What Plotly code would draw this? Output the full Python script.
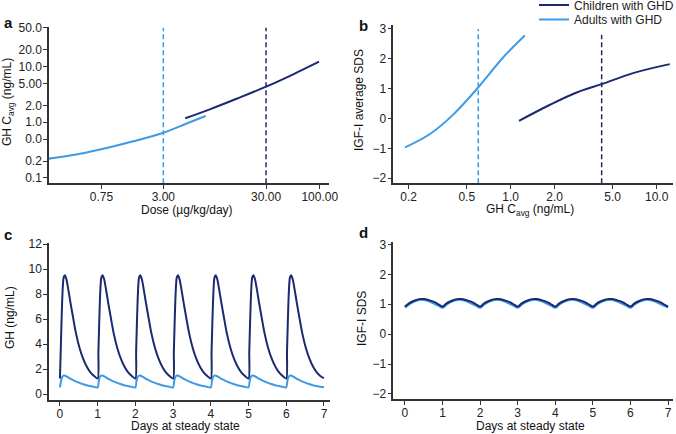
import plotly.graph_objects as go

W, H = 676, 434
NAVY = "#1b2a6e"
LIGHT = "#3e9ae4"
AXC = "#333333"
FONT = "Liberation Sans, Arial, sans-serif"

# ---------------- Panel a: dose vs GH Cavg ----------------
A_CHILD_DOSE = [4.9, 8.5, 15.5, 30, 55.2, 98.5]
A_CHILD_CAVG = [1.18, 1.71, 2.65, 4.37, 7.3, 12.3]
A_ADULT_DOSE = [0.231, 0.464, 0.843, 1.53, 3.0, 5.06, 7.74]
A_ADULT_CAVG = [0.222, 0.272, 0.345, 0.455, 0.65, 0.95, 1.30]
A_REF_DOSE = {"adult": 3.0, "child": 30.0}
A_YTICK_VALS = [50, 20, 10, 5, 2, 1, 0.5, 0.2, 0.1]
A_YTICK_TEXT = ["50.0", "20.0", "10.0", "5.00", "2.0", "1.0", "0.0", "0.2", "0.1"]
A_XTICK_VALS = [0.75, 3, 30, 100]
A_XTICK_TEXT = ["0.75", "3.00", "30.00", "100.00"]

# ---------------- Panel b: GH Cavg vs IGF-I SDS ----------------
B_ADULT_CAVG = [0.189, 0.28, 0.404, 0.607, 0.89, 1.25]
B_ADULT_SDS = [-0.97, -0.52, 0.13, 1.07, 2.05, 2.78]
B_CHILD_CAVG = [1.14, 1.86, 2.83, 4.2, 6.9, 12.3]
B_CHILD_SDS = [-0.08, 0.46, 0.87, 1.15, 1.52, 1.82]
B_REF_CAVG = {"adult": 0.60, "child": 4.2}
B_REF_TOP = {"adult": 3.0, "child": 2.8}
B_XTICK_VALS = [0.2, 0.5, 1.0, 2.0, 5.0, 10.0]
B_XTICK_TEXT = ["0.2", "0.5", "1.0", "2.0", "5.0", "10.0"]

# ---------------- Panel c: GH over one dosing day (repeats daily) ----------------
C_CHILD_T = [0, 0.02, 0.04, 0.06, 0.08, 0.10, 0.13, 0.17, 0.22, 0.28, 0.35, 0.43, 0.52, 0.62, 0.72, 0.82, 0.92]
C_CHILD_GH = [1.25, 3.4, 5.6, 7.5, 8.8, 9.35, 9.5, 9.2, 8.4, 7.3, 6.1, 4.8, 3.7, 2.8, 2.15, 1.7, 1.42]
C_CHILD_END = 1.28
C_ADULT_T = [0, 0.03, 0.06, 0.10, 0.14, 0.20, 0.30, 0.40, 0.50, 0.60, 0.70, 0.80, 0.90]
C_ADULT_GH = [0.55, 1.05, 1.38, 1.50, 1.48, 1.38, 1.20, 1.05, 0.93, 0.82, 0.72, 0.65, 0.59]
C_ADULT_END = 0.56

# ---------------- Panel d: IGF-I SDS over one dosing day ----------------
D_T = [0, 0.1, 0.2, 0.3, 0.4, 0.5, 0.6, 0.7, 0.8, 0.9]
D_CHILD_SDS = [0.92, 1.02, 1.09, 1.14, 1.17, 1.17, 1.15, 1.11, 1.06, 0.99]
D_CHILD_END = 0.92
D_ADULT_SDS = [0.89, 0.99, 1.07, 1.12, 1.15, 1.15, 1.12, 1.07, 1.01, 0.95]
D_ADULT_END = 0.89
N_DAYS = 7
DAY_TICKS = list(range(0, 8))


def tile(cycle_t, cycle_v, end_v, n):
    xs, ys = [], []
    for d in range(n):
        xs += [d + t for t in cycle_t]
        ys += list(cycle_v)
    xs.append(n)
    ys.append(end_v)
    return xs, ys


def px(x):
    return x / W


def py(y):
    return 1 - y / H


fig = go.Figure()
LW = 2

# Panel a
fig.add_trace(go.Scatter(x=A_CHILD_DOSE, y=A_CHILD_CAVG, mode="lines", name="Children with GHD",
                         line=dict(color=NAVY, width=LW, shape="spline"), xaxis="x", yaxis="y",
                         legend="legend"))
fig.add_trace(go.Scatter(x=A_ADULT_DOSE, y=A_ADULT_CAVG, mode="lines", name="Adults with GHD",
                         line=dict(color=LIGHT, width=LW, shape="spline"), xaxis="x", yaxis="y",
                         legend="legend2"))
A_YR = [-1.097, 1.719]
for key, col in (("adult", LIGHT), ("child", NAVY)):
    fig.add_trace(go.Scatter(x=[A_REF_DOSE[key]] * 2, y=[10 ** A_YR[0], 50], mode="lines",
                             line=dict(color=col, width=1.5, dash="5px,3px"), showlegend=False,
                             xaxis="x", yaxis="y", hoverinfo="skip"))

# Panel b
fig.add_trace(go.Scatter(x=B_ADULT_CAVG, y=B_ADULT_SDS, mode="lines", showlegend=False,
                         line=dict(color=LIGHT, width=LW, shape="spline"), xaxis="x2", yaxis="y2"))
fig.add_trace(go.Scatter(x=B_CHILD_CAVG, y=B_CHILD_SDS, mode="lines", showlegend=False,
                         line=dict(color=NAVY, width=LW, shape="spline"), xaxis="x2", yaxis="y2"))
B_YR = [-2.17, 3.13]
for key, col in (("adult", LIGHT), ("child", NAVY)):
    fig.add_trace(go.Scatter(x=[B_REF_CAVG[key]] * 2, y=[B_YR[0], B_REF_TOP[key]], mode="lines",
                             line=dict(color=col, width=1.5, dash="5px,3px"), showlegend=False,
                             xaxis="x2", yaxis="y2", hoverinfo="skip"))

# Panel c
cx, cy = tile(C_ADULT_T, C_ADULT_GH, C_ADULT_END, N_DAYS)
fig.add_trace(go.Scatter(x=cx, y=cy, mode="lines", showlegend=False,
                         line=dict(color=LIGHT, width=LW, shape="spline", smoothing=0.8), xaxis="x3", yaxis="y3"))
cx, cy = tile(C_CHILD_T, C_CHILD_GH, C_CHILD_END, N_DAYS)
fig.add_trace(go.Scatter(x=cx, y=cy, mode="lines", showlegend=False,
                         line=dict(color=NAVY, width=LW, shape="spline", smoothing=0.8), xaxis="x3", yaxis="y3"))

# Panel d
dx, dy = tile(D_T, D_ADULT_SDS, D_ADULT_END, N_DAYS)
fig.add_trace(go.Scatter(x=dx, y=dy, mode="lines", showlegend=False,
                         line=dict(color=LIGHT, width=LW + 0.5, shape="spline"), xaxis="x4", yaxis="y4"))
dx, dy = tile(D_T, D_CHILD_SDS, D_CHILD_END, N_DAYS)
fig.add_trace(go.Scatter(x=dx, y=dy, mode="lines", showlegend=False,
                         line=dict(color=NAVY, width=LW, shape="spline"), xaxis="x4", yaxis="y4"))

common = dict(showgrid=False, zeroline=False, showline=True, linecolor=AXC, linewidth=1.5,
              ticks="outside", ticklen=4, tickwidth=1.2, tickcolor=AXC,
              tickfont=dict(family=FONT, size=12, color="#222222"), mirror=False, automargin=False)
xc = dict(common, ticklabelstandoff=-2)
yc = dict(common, ticklabelstandoff=-1)

leg = dict(xanchor="left", yanchor="middle", bgcolor="rgba(0,0,0,0)",
           font=dict(family=FONT, size=12, color="#222222"), tracegroupgap=0)

fig.update_layout(
    width=W, height=H, autosize=False,
    margin=dict(l=0, r=0, t=0, b=0, autoexpand=False),
    paper_bgcolor="white", plot_bgcolor="white",
    font=dict(family=FONT, size=12, color="#222222"),
    xaxis=dict(xc, type="log", domain=[px(49), px(329.3)], range=[-0.636, 2.093],
               tickvals=A_XTICK_VALS, ticktext=A_XTICK_TEXT, anchor="y"),
    yaxis=dict(yc, type="log", domain=[py(183.3), py(26.7)], range=A_YR,
               tickvals=A_YTICK_VALS, ticktext=A_YTICK_TEXT, anchor="x"),
    xaxis2=dict(xc, type="log", domain=[px(393.3), px(673.3)], range=[-0.804, 1.114],
                tickvals=B_XTICK_VALS, ticktext=B_XTICK_TEXT, anchor="y2"),
    yaxis2=dict(yc, domain=[py(183.3), py(25)], range=B_YR,
                tickvals=[-2, -1, 0, 1, 2, 3], anchor="x2"),
    xaxis3=dict(xc, domain=[px(49), px(330)], range=[-0.29, 7.16],
                tickvals=DAY_TICKS, anchor="y3"),
    yaxis3=dict(yc, domain=[py(400), py(243)], range=[-0.46, 12.08],
                tickvals=[0, 2, 4, 6, 8, 10, 12], anchor="x3"),
    xaxis4=dict(xc, domain=[px(393.3), px(673.3)], range=[-0.31, 7.14],
                tickvals=DAY_TICKS, anchor="y4"),
    yaxis4=dict(yc, domain=[py(399), py(242)], range=[-2.17, 3.08],
                tickvals=[-2, -1, 0, 1, 2, 3], anchor="x4"),
    showlegend=True,
    legend=dict(leg, x=px(534), y=py(5)),
    legend2=dict(leg, x=px(534), y=py(19.5)),
)

ann = []


def text(x, y, s, size=12, angle=0, bold=False, xanchor="center"):
    ann.append(dict(x=px(x), y=py(y), xref="paper", yref="paper", text=("<b>%s</b>" % s) if bold else s,
                    showarrow=False, textangle=angle, xanchor=xanchor, yanchor="middle",
                    font=dict(family=FONT, size=size, color="#111111")))


text(2, 22, "a", size=15, bold=True, xanchor="left")
text(357, 26, "b", size=15, bold=True, xanchor="left")
text(2, 234, "c", size=15, bold=True, xanchor="left")
text(357, 233, "d", size=15, bold=True, xanchor="left")

text(186.7, 210, "Dose (µg/kg/day)")
text(530, 210, "GH C<sub>avg</sub> (ng/mL)")
text(185, 425.5, "Days at steady state")
text(530, 425.5, "Days at steady state")

text(8, 102, "GH C<sub>avg</sub> (ng/mL)", angle=-90)
text(359, 100, "IGF-I average SDS", angle=-90)
text(10, 318, "GH (ng/mL)", angle=-90)
text(362, 319, "IGF-I SDS", angle=-90)

fig.update_layout(annotations=ann)
fig.write_html("out.html", config={"displayModeBar": False},
               post_script="document.body.style.margin='0px';document.body.style.overflow='hidden';")
